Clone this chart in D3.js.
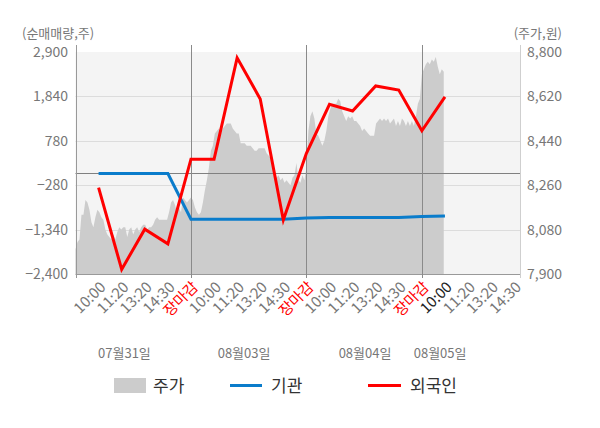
<!DOCTYPE html>
<html><head><meta charset="utf-8">
<script src="https://cdn.jsdelivr.net/npm/d3@7"></script>
<style>
html,body{margin:0;padding:0;background:#fff;}
svg{display:block;font-family:"Noto Sans CJK KR","Noto Sans",sans-serif;}
</style></head>
<body>
<svg id="chart" width="600" height="428"></svg>
<script>
// ---- data ----
const dayLabels = ['07월31일','08월03일','08월04일','08월05일'];
const timeLabels = ['10:00','11:20','13:20','14:30','장마감'];
const leftTicks = [-2400,-1340,-280,780,1840,2900];
const rightTicks = [7900,8080,8260,8440,8620,8800];
const foreign = [-340,-2290,-1330,-1680,340,340,2760,1780,-1110,480,1650,1490,2090,1990,1020,1830];
const institution = [0,0,0,0,-1090,-1090,-1090,-1090,-1090,-1065,-1050,-1050,-1050,-1050,-1030,-1015];
const price0731 = [8000,8030,8040,8140,8140,8200,8190,8160,8110,8090,8130,8160,8150,8130,8120,8080,8060,8050,8040,8060,8040,8070,8090,8080,8090,8090,8050,8080,8090,8060,8080,8090,8070,8090,8100,8100,8080,8090,8090,8100,8120,8130,8120,8120,8120,8120,8120,8150,8190,8200,8180,8150,8170,8150,8210,8200,8190,8200];
const price0803 = [8210,8200,8170,8150,8140,8150,8190,8240,8280,8330,8400,8420,8470,8480,8490,8470,8490,8500,8510,8510,8510,8490,8480,8470,8470,8430,8430,8430,8420,8420,8420,8410,8400,8400,8410,8410,8410,8410,8390,8380,8370,8350,8310,8290,8300,8280,8290,8270,8280,8270,8260,8290,8300,8350,8280,8270,8300,8280];
const price0804 = [8330,8480,8540,8560,8530,8470,8460,8440,8420,8440,8480,8540,8570,8590,8590,8590,8610,8600,8560,8540,8520,8540,8530,8540,8520,8520,8510,8500,8480,8490,8480,8470,8460,8460,8460,8510,8520,8530,8520,8530,8520,8530,8510,8520,8530,8500,8520,8500,8530,8520,8500,8520,8500,8520,8500,8540,8590,8610];
const price0805 = [8710,8730,8750,8760,8750,8770,8760,8780,8740,8710,8730,8720];
const legendNames = ['주가','기관','외국인'];

// ---- layout ----
const L = 75.5, R = 520, T = 52, B = 274;
const SLOTS_PER_DAY = 5, TICKS_PER_DAY = 58;
const dayLabelSlots = [2.12, 7.3, 12.54, 15.79];

const svg = d3.select('#chart');
const x = d3.scaleLinear().domain([0, 19.25]).range([L, R]);
const yL = d3.scaleLinear().domain([-2400, 2900]).range([B, T]);
const yR = d3.scaleLinear().domain([7900, 8800]).range([B, T]);

// background
svg.append('rect').attr('x', L).attr('y', T).attr('width', R - L).attr('height', B - T).attr('fill', '#f4f4f4');

// gridlines
svg.append('g').selectAll('line').data(leftTicks.slice(1, -1)).join('line')
  .attr('x1', L).attr('x2', R)
  .attr('y1', d => Math.round(yL(d)) + 0.5).attr('y2', d => Math.round(yL(d)) + 0.5)
  .attr('stroke', '#dcdcdc').attr('stroke-width', 1);

// price area
const days = [price0731, price0803, price0804, price0805];
const pricePts = days.flatMap((arr, d) => arr.map((v, i) => ({s: d * SLOTS_PER_DAY + i * SLOTS_PER_DAY / TICKS_PER_DAY, v})));
svg.append('path').datum(pricePts)
  .attr('d', d3.area().x(p => x(p.s)).y0(B).y1(p => yR(p.v)))
  .attr('fill', '#cccccc');

// zero line
svg.append('line').attr('x1', L).attr('x2', R)
  .attr('y1', Math.round(yL(0)) + 0.5).attr('y2', Math.round(yL(0)) + 0.5)
  .attr('stroke', '#808080').attr('stroke-width', 1);

// bottom axis
svg.append('line').attr('x1', L).attr('x2', R).attr('y1', B + 0.5).attr('y2', B + 0.5)
  .attr('stroke', '#999').attr('stroke-width', 1);

// day separators and left/right axis lines
const sepSlots = [0, 5, 10, 15];
svg.append('g').selectAll('line').data(sepSlots).join('line')
  .attr('x1', d => Math.round(x(d)) + 0.5).attr('x2', d => Math.round(x(d)) + 0.5)
  .attr('y1', 45).attr('y2', 278)
  .attr('stroke', (d, i) => i === 0 ? '#999' : '#8a8a8a').attr('stroke-width', 1);
svg.append('line').attr('x1', R + 0.5).attr('x2', R + 0.5).attr('y1', 45).attr('y2', 278)
  .attr('stroke', '#cfcfcf').attr('stroke-width', 1);

// lines
const lineGen = d3.line().x((v, i) => x(i + 1)).y(v => yL(v));
svg.append('path').datum(institution).attr('d', lineGen)
  .attr('fill', 'none').attr('stroke', '#0a7ccb').attr('stroke-width', 3);
svg.append('path').datum(foreign).attr('d', lineGen)
  .attr('fill', 'none').attr('stroke', '#ff0000').attr('stroke-width', 3).attr('stroke-linejoin', 'miter');

// left ticks
svg.append('g').selectAll('text').data(leftTicks).join('text')
  .attr('x', 68).attr('y', d => yL(d)).attr('dy', '0.35em')
  .attr('text-anchor', 'end').attr('font-size', 14).attr('fill', '#777')
  .text(d => d3.format(',')(d));
// right ticks
svg.append('g').selectAll('text').data(rightTicks).join('text')
  .attr('x', 527).attr('y', d => yR(d)).attr('dy', '0.35em')
  .attr('text-anchor', 'start').attr('font-size', 14).attr('fill', '#777')
  .text(d => d3.format(',')(d));

// unit labels
svg.append('text').attr('x', 22).attr('y', 38).attr('font-size', 13).attr('fill', '#777').text('(순매매량,주)');
svg.append('text').attr('x', 562).attr('y', 38).attr('text-anchor', 'end').attr('font-size', 13).attr('fill', '#777').text('(주가,원)');

// x labels
const xLabels = [];
dayLabels.forEach((dl, d) => {
  timeLabels.forEach((t, k) => {
    if (d === dayLabels.length - 1 && k === timeLabels.length - 1) return;
    xLabels.push({slot: d * SLOTS_PER_DAY + k + 1, t, d, k});
  });
});
svg.append('g').selectAll('text').data(xLabels).join('text')
  .attr('transform', p => `translate(${x(p.slot) + 8},${288}) rotate(-45)`)
  .attr('text-anchor', 'end').attr('font-size', 15)
  .attr('fill', p => p.t === '장마감' ? '#ff0000' : (p.d === 3 && p.k === 0 ? '#222' : '#777'))
  .text(p => p.t);

// day labels
svg.append('g').selectAll('text').data(dayLabels).join('text')
  .attr('x', (d, i) => x(dayLabelSlots[i])).attr('y', 358)
  .attr('text-anchor', 'middle').attr('font-size', 13).attr('fill', '#777')
  .text(d => d);

// legend
const lg = svg.append('g');
lg.append('rect').attr('x', 114).attr('y', 378).attr('width', 32).attr('height', 15).attr('fill', '#cccccc');
lg.append('text').attr('x', 153).attr('y', 391.5).attr('font-size', 17).attr('fill', '#333').text(legendNames[0]);
lg.append('line').attr('x1', 230).attr('x2', 262).attr('y1', 385.5).attr('y2', 385.5).attr('stroke', '#0a7ccb').attr('stroke-width', 3);
lg.append('text').attr('x', 271).attr('y', 391.5).attr('font-size', 17).attr('fill', '#333').text(legendNames[1]);
lg.append('line').attr('x1', 368).attr('x2', 401).attr('y1', 385.5).attr('y2', 385.5).attr('stroke', '#ff0000').attr('stroke-width', 3);
lg.append('text').attr('x', 410).attr('y', 391.5).attr('font-size', 17).attr('fill', '#333').text(legendNames[2]);
</script>
</body></html>
